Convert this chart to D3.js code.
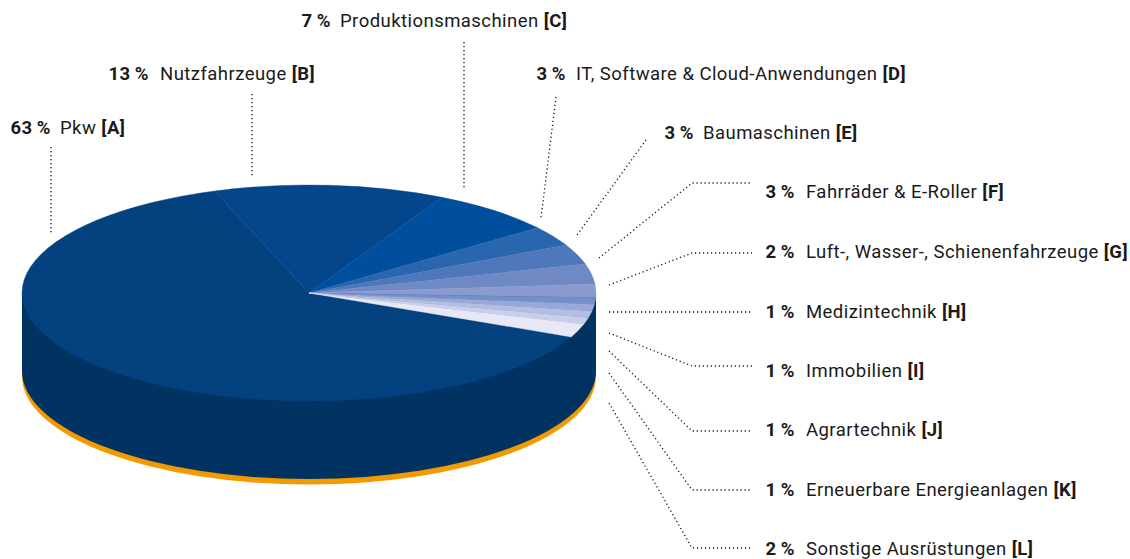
<!DOCTYPE html>
<html><head><meta charset="utf-8">
<script src="https://cdn.jsdelivr.net/npm/d3@7"></script>
<style>html,body{margin:0;background:#fff}svg{display:block}text{font-family:Roboto,sans-serif;font-size:18.5px;letter-spacing:.45px;fill:#1a1a1a}</style>
</head><body><svg id="c" width="1130" height="559"></svg>
<script>
const categories=["Pkw","Nutzfahrzeuge","Produktionsmaschinen","IT, Software & Cloud-Anwendungen","Baumaschinen","Fahrräder & E-Roller","Luft-, Wasser-, Schienenfahrzeuge","Medizintechnik","Immobilien","Agrartechnik","Erneuerbare Energieanlagen","Sonstige Ausrüstungen"];
const codes=["A","B","C","D","E","F","G","H","I","J","K","L"];
const shares=[63,13,7,3,3,3,2,1,1,1,1,2];
const sliceColors=["#03417f","#03468c","#004f9f","#2a66ae","#4e78bb","#6f89c4","#8b9bd0","#7390c8","#9aa8d8","#b4bde2","#c8cfea","#e6e8f6"];

// layout
const cx=309,cy=293,rx=287,ry=108,depth=78,rim=5.5;
const labelPos=[[51,60,133.5],[149,160,79.5],[331,340,27],[566,576,79.5],[694,703,139],[795,806,198],[795,806,258],[795,806,318],[795,806,377],[795,806,436],[795,806,496],[795,806,555]];
const leaders=[
 [[51,147],[51,233]],[[252,94],[252,176]],[[464,42],[464,188]],[[556,97],[541,218]],[[646,140],[577,235]],
 [[599,258],[692,183],[752,183]],[[609,285],[692,253],[752,253]],[[609,312],[752,312]],
 [[609,333],[692,366],[752,366]],[[609,351],[692,431],[752,431]],[[609,373],[692,490],[752,490]],[[609,403],[692,548],[752,548]]];

const svg=d3.select("#c");
const wall=(yTop,yBot)=>`M${cx-rx},${yTop}L${cx-rx},${yBot}A${rx},${ry} 0 0 0 ${cx+rx},${yBot}L${cx+rx},${yTop}Z`;
svg.append("path").attr("d",wall(cy,cy+depth+rim)).attr("fill","#f39a00");
svg.append("path").attr("d",wall(cy,cy+depth)).attr("fill","#003361");

const pie=d3.pie().sort(null).value(d=>d).startAngle(114*Math.PI/180).endAngle((114+360)*Math.PI/180);
const arc=d3.arc().innerRadius(0).outerRadius(rx);
svg.append("g").attr("transform",`translate(${cx},${cy}) scale(1,${ry/rx})`)
 .selectAll("path").data(pie(shares)).join("path")
 .attr("d",arc).attr("fill",(d,i)=>sliceColors[i])
 .attr("stroke",(d,i)=>sliceColors[i]).attr("stroke-width",0.4).attr("vector-effect","non-scaling-stroke");

const line=d3.line();
svg.append("g").selectAll("path").data(leaders).join("path")
 .attr("d",d=>line(d)).attr("fill","none").attr("stroke","#111").attr("stroke-width",1.3)
 .attr("stroke-dasharray","1.2 2.8");

const g=svg.append("g");
categories.forEach((c,i)=>{
 const [px,nx,y]=labelPos[i];
 g.append("text").attr("x",px).attr("y",y).attr("text-anchor","end").style("font-weight",700).text(shares[i]+"\u2009%");
 const t=g.append("text").attr("x",nx).attr("y",y);
 t.append("tspan").text(c+" ");
 t.append("tspan").style("font-weight",700).text("["+codes[i]+"]");
});
</script></body></html>
